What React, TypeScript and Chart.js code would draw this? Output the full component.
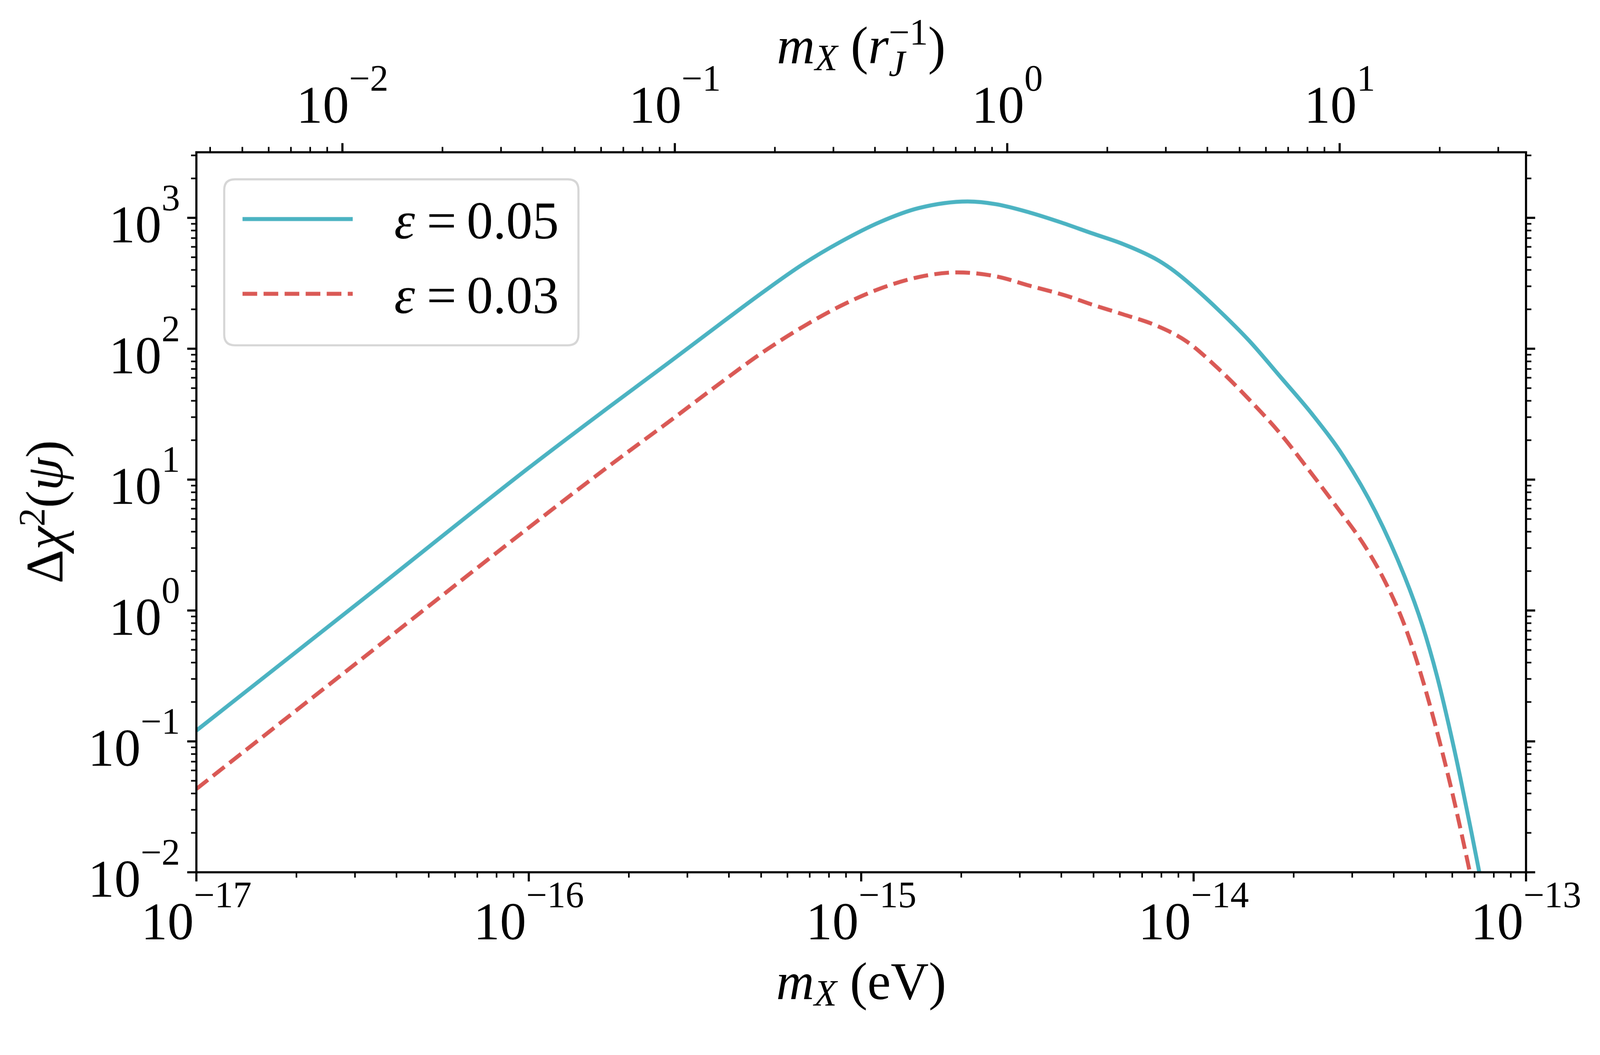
import React, { useEffect, useRef } from "react"
import { Chart, registerables } from "chart.js"

Chart.register(...registerables)

// m_X in eV (bottom axis) and Δχ²(ψ)
const cyanMass = [
  1.0e-17, 3.16e-17, 1.0e-16, 1.75e-16, 2.62e-16, 3.87e-16, 5.07e-16, 6.64e-16,
  8.69e-16, 1.14e-15, 1.49e-15, 2.09e-15, 2.55e-15, 3.21e-15, 3.96e-15, 4.93e-15,
  6.14e-15, 7.64e-15, 8.51e-15, 9.51e-15, 1.18e-14, 1.47e-14, 1.83e-14, 2.28e-14,
  2.83e-14, 3.53e-14, 4.32e-14, 4.88e-14, 5.4e-14, 5.85e-14, 6.34e-14, 6.87e-14,
  7.23e-14, 7.59e-14,
]
const cyanChi = [
  0.121, 1.21, 12.3, 36.1, 77.3, 163, 271, 438,
  658, 930, 1188, 1334, 1270, 1099, 929, 764,
  630, 490, 412, 330, 201, 115, 60.4, 31.3,
  14.9, 5.64, 1.8, 0.766, 0.314, 0.135, 0.0532, 0.0195,
  0.0101, 0.0054,
]

const redMass = [
  1.0e-17, 3.16e-17, 1.0e-16, 1.75e-16, 2.62e-16, 3.87e-16, 5.07e-16, 6.64e-16,
  8.69e-16, 1.14e-15, 1.49e-15, 1.95e-15, 2.55e-15, 3.21e-15, 4.14e-15, 4.93e-15,
  6.14e-15, 7.64e-15, 9.51e-15, 1.18e-14, 1.47e-14, 1.83e-14, 2.18e-14, 2.66e-14,
  3.26e-14, 3.75e-14, 4.24e-14, 4.68e-14, 5.13e-14, 5.61e-14, 6.03e-14, 6.47e-14,
  6.67e-14, 6.92e-14, 7.24e-14,
]
const redChi = [
  0.0433, 0.431, 4.3, 12.8, 27.3, 57.5, 94.4, 146,
  213, 288, 353, 383, 357, 303, 254, 218,
  183, 152, 114, 71.4, 40.9, 22.2, 12.6, 6.46,
  3.16, 1.7, 0.859, 0.421, 0.192, 0.0813, 0.0384, 0.0173,
  0.0121, 0.0078, 0.0045,
]

const epsilonLabels = ["0.05", "0.03"]

// decade labels on each axis
const bottomExponents = [-17, -16, -15, -14, -13]
const topExponents = [-2, -1, 0, 1]
const leftExponents = [-2, -1, 0, 1, 2, 3]

const X_MIN = 1e-17
const X_MAX = 1e-13
const Y_MIN = 1e-2
const Y_MAX = 3170
const EV_PER_RJ_INV = 2.75e-15 // 1 r_J^-1 expressed in eV

const CYAN = "#4bb3c2"
const RED = "#da5955"

// reference figure geometry (px at 4196 x 2700)
const FIG_W = 4196
const FIG_H = 2700
const AREA = { left: 515, right: 4002, top: 399, bottom: 2286 }

const SERIF = '"Liberation Serif", "DejaVu Serif", serif'
const FS = 138
const SUP = 97

type Run = { t: string; size?: number; it?: boolean; dy?: number; stack?: boolean }

const fontOf = (r: Run, k: number) => `${r.it ? "italic " : ""}${(r.size ?? FS) * k}px ${SERIF}`

function layoutRuns(ctx: CanvasRenderingContext2D, runs: Run[], k: number) {
  const pos: number[] = []
  let start = 0
  let end = 0
  for (const r of runs) {
    ctx.font = fontOf(r, k)
    const w = ctx.measureText(r.t).width
    const s = r.stack ? start : end
    pos.push(s)
    start = s
    end = Math.max(end, s + w)
  }
  return { pos, width: end }
}

function drawRuns(
  ctx: CanvasRenderingContext2D,
  runs: Run[],
  x: number,
  y: number,
  align: "left" | "center" | "right",
  k: number
) {
  const { pos, width } = layoutRuns(ctx, runs, k)
  const x0 = align === "center" ? x - width / 2 : align === "right" ? x - width : x
  runs.forEach((r, i) => {
    ctx.font = fontOf(r, k)
    ctx.fillText(r.t, x0 + pos[i], y + (r.dy ?? 0) * k)
  })
}

const power = (e: number): Run[] => [
  { t: "10" },
  { t: e < 0 ? "\u2212" + -e : String(e), size: SUP, dy: -84 },
]

function logTicks(lo: number, hi: number) {
  const out: { v: number; major: boolean }[] = []
  const d0 = Math.floor(Math.log10(lo))
  const d1 = Math.ceil(Math.log10(hi))
  for (let d = d0; d <= d1; d++) {
    for (let m = 1; m < 10; m++) {
      const v = m * Math.pow(10, d)
      if (v >= lo * (1 - 1e-9) && v <= hi * (1 + 1e-9)) out.push({ v, major: m === 1 })
    }
  }
  return out
}

const axesPlugin = {
  id: "mplAxes",
  beforeDraw(chart: any) {
    const { ctx, width, height } = chart
    ctx.save()
    ctx.fillStyle = "#ffffff"
    ctx.fillRect(0, 0, width, height)
    ctx.restore()
  },
  afterDraw(chart: any) {
    const ctx: CanvasRenderingContext2D = chart.ctx
    const k = chart.width / FIG_W
    const a = chart.chartArea
    const xs = chart.scales.x
    const ys = chart.scales.y
    ctx.save()
    ctx.strokeStyle = "#000"
    ctx.fillStyle = "#000"
    ctx.lineCap = "butt"
    ctx.textBaseline = "alphabetic"
    ctx.textAlign = "left"

    const tick = (x1: number, y1: number, x2: number, y2: number, major: boolean) => {
      ctx.lineWidth = (major ? 5.6 : 4.2) * k
      ctx.beginPath()
      ctx.moveTo(x1, y1)
      ctx.lineTo(x2, y2)
      ctx.stroke()
    }

    for (const t of logTicks(X_MIN, X_MAX)) {
      const px = xs.getPixelForValue(t.v)
      tick(px, a.bottom, px, a.bottom + (t.major ? 24 : 14) * k, t.major)
    }
    for (const t of logTicks(X_MIN / EV_PER_RJ_INV, X_MAX / EV_PER_RJ_INV)) {
      const px = xs.getPixelForValue(t.v * EV_PER_RJ_INV)
      tick(px, a.top, px, a.top - (t.major ? 24 : 14) * k, t.major)
    }
    for (const t of logTicks(Y_MIN, Y_MAX)) {
      const py = ys.getPixelForValue(t.v)
      const len = (t.major ? 24 : 14) * k
      tick(a.left, py, a.left - len, py, t.major)
      tick(a.right, py, a.right + len, py, t.major)
    }

    ctx.lineWidth = 5.6 * k
    ctx.strokeRect(a.left, a.top, a.right - a.left, a.bottom - a.top)

    for (const e of bottomExponents) {
      const px = xs.getPixelForValue(Math.pow(10, e))
      drawRuns(ctx, power(e), px, a.bottom + 176 * k, "center", k)
    }
    for (const e of topExponents) {
      const px = xs.getPixelForValue(Math.pow(10, e) * EV_PER_RJ_INV)
      drawRuns(ctx, power(e), px, a.top - 77 * k, "center", k)
    }
    for (const e of leftExponents) {
      const py = ys.getPixelForValue(Math.pow(10, e))
      drawRuns(ctx, power(e), a.left - 43 * k, py + 64 * k, "right", k)
    }

    const cx = (a.left + a.right) / 2
    drawRuns(
      ctx,
      [{ t: "m", it: true }, { t: "X", it: true, size: SUP, dy: 18 }, { t: " (eV)" }],
      cx,
      a.bottom + 332 * k,
      "center",
      k
    )
    drawRuns(
      ctx,
      [
        { t: "m", it: true },
        { t: "X", it: true, size: SUP, dy: 18 },
        { t: " (" },
        { t: "r", it: true },
        { t: "J", it: true, size: SUP, dy: 34 },
        { t: "\u22121", size: SUP, dy: -49, stack: true },
        { t: ")" },
      ],
      cx,
      a.top - 233 * k,
      "center",
      k
    )

    ctx.save()
    ctx.translate(a.left - 351 * k, (a.top + a.bottom) / 2 - k)
    ctx.rotate(-Math.PI / 2)
    drawRuns(
      ctx,
      [
        { t: "\u0394" },
        { t: "\u03c7", it: true },
        { t: "2", size: SUP, dy: -47 },
        { t: "(" },
        { t: "\u03c8", it: true },
        { t: ")" },
      ],
      0,
      0,
      "center",
      k
    )
    ctx.restore()

    // legend
    const lx = a.left + 73 * k
    const ly = a.top + 71 * k
    const lw = 929 * k
    const lh = 435 * k
    const r = 28 * k
    ctx.beginPath()
    ctx.moveTo(lx + r, ly)
    ctx.lineTo(lx + lw - r, ly)
    ctx.quadraticCurveTo(lx + lw, ly, lx + lw, ly + r)
    ctx.lineTo(lx + lw, ly + lh - r)
    ctx.quadraticCurveTo(lx + lw, ly + lh, lx + lw - r, ly + lh)
    ctx.lineTo(lx + r, ly + lh)
    ctx.quadraticCurveTo(lx, ly + lh, lx, ly + lh - r)
    ctx.lineTo(lx, ly + r)
    ctx.quadraticCurveTo(lx, ly, lx + r, ly)
    ctx.closePath()
    ctx.fillStyle = "rgba(255,255,255,0.8)"
    ctx.fill()
    ctx.strokeStyle = "#d6d6d6"
    ctx.lineWidth = 5.5 * k
    ctx.stroke()

    chart.data.datasets.forEach((ds: any, i: number) => {
      const y = a.top + (175 + i * 196) * k
      ctx.strokeStyle = ds.borderColor
      ctx.lineWidth = ds.borderWidth
      ctx.setLineDash(ds.borderDash || [])
      ctx.beginPath()
      ctx.moveTo(a.left + 121 * k, y)
      ctx.lineTo(a.left + 410 * k, y)
      ctx.stroke()
      ctx.setLineDash([])
      ctx.fillStyle = "#000"
      const tx = a.left + 519 * k
      const base = y + 51 * k
      ctx.font = fontOf({ t: "", it: true }, k)
      ctx.fillText("\u03b5", tx, base)
      ctx.font = fontOf({ t: "" }, k)
      ctx.textAlign = "center"
      ctx.fillText("=", tx + 124 * k, base)
      ctx.textAlign = "left"
      ctx.fillText(epsilonLabels[i], tx + 190 * k, base)
    })

    ctx.restore()
  },
}

const App: React.FC = () => {
  const wrapRef = useRef<HTMLDivElement | null>(null)
  const canvasRef = useRef<HTMLCanvasElement | null>(null)
  const chartRef = useRef<Chart | null>(null)

  useEffect(() => {
    if (!canvasRef.current || !wrapRef.current) return
    if (chartRef.current) chartRef.current.destroy()

    const W = wrapRef.current.clientWidth || FIG_W
    const H = W * (FIG_H / FIG_W)
    const k = W / FIG_W
    const lineW = 10.4 * k

    chartRef.current = new Chart(canvasRef.current, {
      type: "line",
      data: {
        datasets: [
          {
            label: "\u03b5 = " + epsilonLabels[0],
            data: cyanMass.map((m, i) => ({ x: m, y: cyanChi[i] })),
            borderColor: CYAN,
            borderWidth: lineW,
            borderCapStyle: "butt",
            borderJoinStyle: "round",
            cubicInterpolationMode: "monotone",
            pointRadius: 0,
            clip: 0,
          },
          {
            label: "\u03b5 = " + epsilonLabels[1],
            data: redMass.map((m, i) => ({ x: m, y: redChi[i] })),
            borderColor: RED,
            borderWidth: lineW,
            borderDash: [38.5 * k, 16.7 * k],
            borderCapStyle: "butt",
            borderJoinStyle: "round",
            cubicInterpolationMode: "monotone",
            pointRadius: 0,
            clip: 0,
          },
        ],
      },
      options: {
        responsive: true,
        maintainAspectRatio: false,
        animation: false,
        events: [],
        layout: {
          padding: {
            left: AREA.left * k,
            right: W - AREA.right * k,
            top: AREA.top * k,
            bottom: H - AREA.bottom * k,
          },
        },
        plugins: {
          legend: { display: false },
          tooltip: { enabled: false },
        },
        scales: {
          x: { type: "logarithmic", min: X_MIN, max: X_MAX, display: false },
          y: { type: "logarithmic", min: Y_MIN, max: Y_MAX, display: false },
        },
      },
      plugins: [axesPlugin],
    } as any)

    return () => {
      if (chartRef.current) {
        chartRef.current.destroy()
        chartRef.current = null
      }
    }
  }, [])

  return (
    <div
      ref={wrapRef}
      style={{
        position: "fixed",
        left: 0,
        top: 0,
        width: "100vw",
        aspectRatio: `${FIG_W} / ${FIG_H}`,
        background: "#fff",
      }}
    >
      <canvas ref={canvasRef} />
    </div>
  )
}

export default App
